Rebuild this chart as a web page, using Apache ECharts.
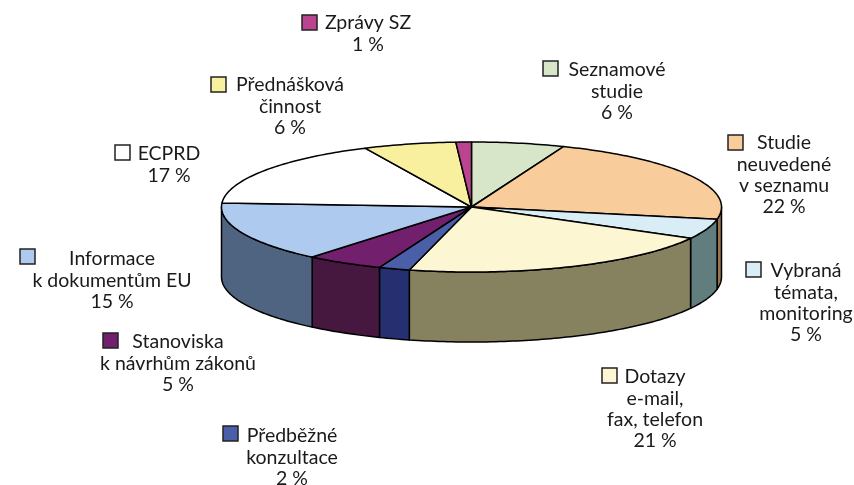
<!DOCTYPE html>
<html>
<head>
<meta charset="utf-8">
<style>
html, body { margin: 0; padding: 0; background: #fff; }
#main { width: 854px; height: 485px; }
</style>
<script src="https://cdn.jsdelivr.net/npm/echarts@6/dist/echarts.min.js"></script>
</head>
<body>
<div id="main"></div>
<script>
// clockwise from 12 o'clock
const categories = [
    ['Seznamové', 'studie'],
    ['Studie', 'neuvedené', 'v seznamu'],
    ['Vybraná', 'témata,', 'monitoring'],
    ['Dotazy', 'e-mail,', 'fax, telefon'],
    ['Předběžné', 'konzultace'],
    ['Stanoviska', 'k návrhům zákonů'],
    ['Informace', 'k dokumentům EU'],
    ['ECPRD'],
    ['Přednášková', 'činnost'],
    ['Zprávy SZ']
];
const values = [6, 22, 5, 21, 2, 5, 15, 17, 6, 1];

const topColors = ['#d7e6c8', '#f9cd9b', '#d8edf5', '#fdf6d3', '#4a5fa8', '#72206e', '#aecbef', '#ffffff', '#f9f09f', '#bb4490'];
const wallColors = ['#6c7364', '#9a7550', '#627d7d', '#86825f', '#263070', '#46173f', '#4e6480', '#808080', '#7d784f', '#5e2248'];

// label layout: text centre x, first line y, swatch left, swatch top
const labelPos = [
    [617, 70, 543, 61],
    [784, 143, 728, 135],
    [806, 271, 746, 262],
    [655, 377, 602, 368],
    [292, 436, 223, 426],
    [178, 342, 103, 333],
    [112, 259, 20, 249],
    [169, 154, 115, 145],
    [290, 85, 211, 77],
    [368, 23, 302, 15]
];

const cx = 471.5, cy = 207, rx = 250, ry = 65, depth = 70;
const lineHeight = 21.3, swatch = 15;
const fontFamily = 'Lato, sans-serif';

const total = values.reduce((a, b) => a + b, 0);
let acc = 0;
const ranges = values.map(v => {
    const r = [acc / total * 360, (acc + v) / total * 360];
    acc += v;
    return r;
});

function rimPoint(deg, dy) {
    const t = deg * Math.PI / 180;
    return [cx + rx * Math.sin(t), cy - ry * Math.cos(t) + dy];
}

function arc(from, to, dy) {
    const pts = [];
    const n = Math.max(2, Math.ceil(Math.abs(to - from)));
    for (let i = 0; i <= n; i++) {
        pts.push(rimPoint(from + (to - from) * i / n, dy));
    }
    return pts;
}

function renderSlice(params) {
    const i = params.dataIndex;
    const [a, b] = ranges[i];
    const children = [];
    const stroke = { stroke: '#000', lineWidth: 1.5, lineJoin: 'round' };

    // only the front half of the rim shows a wall
    const wa = Math.max(a, 90), wb = Math.min(b, 270);
    if (wb > wa) {
        children.push({
            type: 'polygon',
            z2: 1,
            shape: { points: arc(wa, wb, 0).concat(arc(wb, wa, depth)) },
            style: Object.assign({ fill: wallColors[i] }, stroke)
        });
    }
    children.push({
        type: 'polygon',
        z2: 2,
        shape: { points: [[cx, cy]].concat(arc(a, b, 0)) },
        style: Object.assign({ fill: topColors[i] }, stroke)
    });

    const pos = labelPos[i];
    children.push({
        type: 'rect',
        z2: 3,
        shape: { x: pos[2], y: pos[3], width: swatch, height: swatch },
        style: { fill: topColors[i], stroke: '#222', lineWidth: 1.5 }
    });
    categories[i].concat(values[i] + ' %').forEach((line, k) => {
        children.push({
            type: 'text',
            z2: 3,
            style: {
                x: pos[0],
                y: pos[1] + k * lineHeight,
                text: line,
                fill: '#1a1a1a',
                font: '19.5px ' + fontFamily,
                align: 'center',
                verticalAlign: 'middle'
            }
        });
    });
    return { type: 'group', children: children };
}

const chart = echarts.init(document.getElementById('main'));
chart.setOption({
    animation: false,
    series: [{
        type: 'custom',
        coordinateSystem: 'none',
        silent: true,
        data: values,
        renderItem: renderSlice
    }]
});
</script>
</body>
</html>
